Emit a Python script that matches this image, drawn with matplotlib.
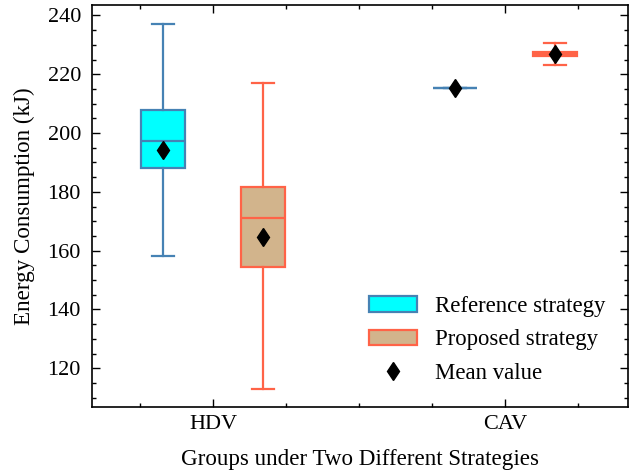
import matplotlib
matplotlib.use("Agg")
import matplotlib.pyplot as plt
from matplotlib.patches import Patch
from matplotlib.lines import Line2D
from matplotlib.ticker import MultipleLocator

plt.rcParams['font.family'] = ['Liberation Serif', 'DejaVu Serif']
plt.rcParams['mathtext.fontset'] = 'stix'

# data (kJ)
groups = ['HDV', 'CAV']
ref_whislo = [158.3, 215.3]
ref_q1 = [188.2, 215.3]
ref_med = [197.3, 215.3]
ref_q3 = [208.0, 215.3]
ref_whishi = [237.0, 215.3]
ref_mean = [194.4, 215.3]

pro_whislo = [113.1, 223.3]
pro_q1 = [154.3, 226.2]
pro_med = [171.0, 227.0]
pro_q3 = [181.7, 227.6]
pro_whishi = [217.2, 230.6]
pro_mean = [164.8, 227.0]


def make_stats(lo, q1, med, q3, hi, mean):
    out = []
    for i in range(len(lo)):
        out.append({'whislo': lo[i], 'q1': q1[i], 'med': med[i], 'q3': q3[i],
                    'whishi': hi[i], 'mean': mean[i], 'fliers': []})
    return out


ref_stats = make_stats(ref_whislo, ref_q1, ref_med, ref_q3, ref_whishi, ref_mean)
pro_stats = make_stats(pro_whislo, pro_q1, pro_med, pro_q3, pro_whishi, pro_mean)

fig = plt.figure(figsize=(6.44, 4.73), dpi=100)
ax = fig.add_axes([0.143, 0.14, 0.832, 0.849])

off = 0.172
w = 0.15
lw = 1.6
meanprops = dict(marker='d', markerfacecolor='black', markeredgecolor='black', markersize=9.5)


def draw(stats, pos, face, edge):
    ax.bxp(stats, positions=pos, widths=w, patch_artist=True, showmeans=True,
           showfliers=False, manage_ticks=False,
           boxprops=dict(facecolor=face, edgecolor=edge, linewidth=lw),
           medianprops=dict(color=edge, linewidth=lw),
           whiskerprops=dict(color=edge, linewidth=lw),
           capprops=dict(color=edge, linewidth=lw),
           meanprops=meanprops)


x = list(range(len(groups)))
draw(ref_stats, [i - off for i in x], 'cyan', 'steelblue')
draw(pro_stats, [i + off for i in x], 'tan', 'tomato')

ax.set_xlim(-0.414, 1.421)
ax.set_ylim(106.9, 243.5)
ax.set_xticks(x)
ax.set_xticklabels(groups)
ax.xaxis.set_minor_locator(MultipleLocator(0.25))
ax.yaxis.set_major_locator(MultipleLocator(20))
ax.yaxis.set_minor_locator(MultipleLocator(5))
ax.tick_params(which='both', direction='in', top=True, right=True, labelsize=16)
ax.tick_params(which='major', length=6, width=1.0, pad=6)
ax.tick_params(which='minor', length=3, width=1.0)
ax.tick_params(axis='y', which='major', pad=8)
for s in ax.spines.values():
    s.set_linewidth(1.2)

ax.set_xlabel('Groups under Two Different Strategies', fontsize=16.6, labelpad=11)
ax.set_ylabel('Energy Consumption (kJ)', fontsize=16.6, labelpad=9)

handles = [Patch(facecolor='cyan', edgecolor='steelblue', linewidth=lw),
           Patch(facecolor='tan', edgecolor='tomato', linewidth=lw),
           Line2D([], [], linestyle='none', marker='d', color='black', markersize=9.5)]
labels = ['Reference strategy', 'Proposed strategy', 'Mean value']
ax.legend(handles, labels, loc='lower right', frameon=False, fontsize=16.4,
          handlelength=2.1, labelspacing=0.55, borderaxespad=0.6)

fig.savefig('out.png', dpi=100)
